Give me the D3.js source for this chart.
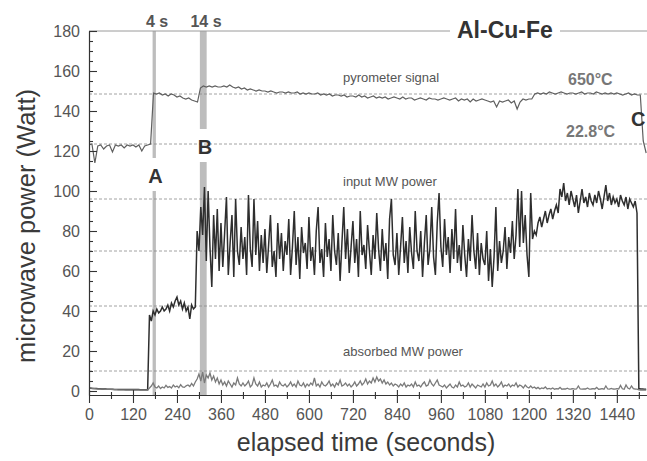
<!DOCTYPE html>
<html>
<head>
<meta charset="utf-8">
<script src="https://cdn.jsdelivr.net/npm/d3@7/dist/d3.min.js"></script>
<style>
  body { margin: 0; background: #fff; }
  svg { display: block; font-family: "Liberation Sans", Arial, sans-serif; }
</style>
</head>
<body>
<script>
// constants
const width = 647;
const height = 461;

// sample intervals (seconds)
const inputStep = 5;
const absorbedStep = 5;
const pyroStep = 8;

// input MW power, one value every 5 s from 0 s (12 values per minute)
const inputPower = [
  1.5,1.4,1.3,1.2,1.2,1.1,1.1,1.0,1.0,1.0,0.9,0.9,
  0.9,0.9,0.8,0.8,0.8,0.8,0.7,0.7,0.7,0.7,0.7,0.7,
  0.7,0.7,0.7,0.7,0.6,0.6,0.6,0.6,0.6,38,35,40,
  38,41,39,40,42,40,41,43,40,44,42,45,
  47,43,45,41,44,40,42,36,43,41,42,80,
  70,92,78,102,65,100,72,52,88,66,91,60,
  84,62,79,97,58,74,88,57,96,70,63,82,
  66,77,58,98,71,62,96,68,85,60,78,64,
  81,59,73,88,62,70,57,84,66,79,60,75,
  68,86,58,72,90,63,77,56,82,69,74,61,
  87,65,72,58,80,92,64,71,57,84,67,76,
  60,88,70,63,79,55,74,92,66,81,59,72,
  85,64,76,57,90,68,73,61,83,70,58,78,
  66,89,71,60,81,65,74,56,86,96,68,63,
  79,58,72,87,64,75,59,82,69,61,90,70,
  65,80,57,74,88,63,71,92,67,58,84,99,
  72,62,86,68,77,59,81,66,91,64,73,60,
  83,68,57,76,65,88,70,61,79,58,74,66,
  63,80,55,71,52,67,92,60,75,64,70,82,
  61,77,69,85,66,78,101,72,100,74,88,68,
  57,99,76,80,78,84,87,82,86,90,84,88,
  91,86,90,93,89,101,97,104,95,99,93,100,
  96,92,98,89,95,101,94,97,92,99,95,93,
  98,94,100,96,91,97,103,95,99,93,97,94,
  96,92,98,95,93,97,91,96,94,92,95,89,
  1.2,1.0,1.0,0.9,0.9
];

// absorbed MW power, one value every 5 s
const absorbedPower = [
  1.5,1.4,1.3,1.2,1.1,1.0,1.0,0.9,0.9,0.8,0.8,0.8,
  0.8,0.7,0.7,0.7,0.6,0.6,0.6,0.6,0.5,0.5,0.5,0.5,
  0.5,0.5,0.5,0.5,0.5,0.5,0.5,0.5,0.5,1.5,2.5,4.0,
  2.0,1.5,2.5,1.2,2.0,1.5,2.8,1.8,2.2,1.5,3.0,2.0,
  2.5,1.6,3.2,2.0,1.8,2.6,3.0,2.2,3.8,2.5,4.5,6.0,
  8.5,5.0,9.5,4.0,8.0,6.5,9.0,5.5,7.5,4.5,6.5,3.5,
  5.5,3.0,4.5,2.5,5.0,3.5,2.0,4.0,3.0,6.5,3.5,2.5,
  4.0,2.5,3.5,5.0,2.0,3.0,6.5,3.5,2.5,4.5,2.0,3.0,
  2.5,4.0,2.0,3.5,5.5,2.5,3.0,2.0,4.5,3.0,2.5,3.5,
  2.0,3.0,4.5,2.5,3.5,2.0,5.0,3.0,2.5,4.0,2.0,3.5,
  2.5,4.0,3.0,6.5,2.5,3.5,2.0,4.5,3.0,2.5,3.5,5.0,
  2.5,3.5,2.0,4.0,3.0,5.5,2.5,3.0,4.0,2.5,3.5,2.0,
  3.0,4.5,2.5,3.5,5.0,3.0,4.0,6.0,3.5,5.0,4.0,6.5,
  4.5,7.0,5.0,6.0,4.0,5.5,3.5,4.5,3.0,4.0,2.5,3.5,
  3.0,2.0,3.5,2.5,4.0,2.0,3.0,2.5,3.5,2.0,4.5,2.5,
  3.0,2.0,3.5,4.5,2.5,3.0,5.5,3.5,2.5,4.0,5.5,3.0,
  2.5,2.0,3.0,1.5,2.5,3.5,2.0,1.5,3.0,2.0,4.5,2.5,
  3.0,2.0,2.5,4.0,2.0,3.5,2.5,1.5,3.0,2.5,2.0,3.5,
  2.0,4.0,2.5,3.0,5.0,2.5,3.5,2.0,3.0,4.5,2.0,3.0,
  2.5,3.5,2.0,3.0,2.5,4.0,2.0,3.0,2.5,1.5,3.0,2.0,
  1.5,2.5,1.5,2.0,1.2,1.8,1.0,1.5,1.2,2.0,1.0,1.3,
  1.0,1.5,0.9,1.2,1.0,1.8,0.9,1.1,1.0,1.4,0.9,1.0,
  1.2,0.9,1.0,2.5,1.0,0.9,1.1,1.0,1.5,0.9,1.0,1.2,
  1.0,1.8,0.9,1.0,1.2,0.9,2.5,1.0,0.9,1.3,1.0,0.9,
  1.2,1.0,2.8,1.1,0.9,3.0,1.5,1.0,2.5,1.2,1.0,0.9,
  0.6,0.5,0.5,0.5,0.5
];

// pyrometer signal (plotted on the watt scale), one value every 8 s
const pyrometer = [
  123,123.5,114,122.5,123,121,122.5,123,119.5,123,122.5,123,121.5,123,122.5,
  123,122,123,120,122.5,123,123.5,149,148.5,149,148,148.5,147.5,148.5,148,
  147,147.5,146.5,146,146.5,145.5,145,144.5,151.5,152.5,152,152.5,152,152.5,152,
  152,152.5,152,153,152,151.5,152,151,151.5,150.5,151,150.5,150,150.5,150,
  150,149.5,150,149.5,149,149.5,149.5,149,149.5,149,149,149.5,148.5,149,148.5,
  149,148.5,148.5,149,148,148.5,148,148.5,147.5,148,148,147.5,148,147,147.5,
  147.5,147,148,147,147.5,146.5,147,147.5,146.5,147,146.5,147,146,146.5,147,
  146.5,146,147,146,146.5,146.5,145.5,146,146.5,146,145.5,146.5,146,146,145.5,
  146,146.5,146,145.5,146,146.5,145,146,145.5,146,144.5,146,145,145.5,146,
  145.5,145,144.5,145,142,145,144.5,145,145.5,144,145,141,144.5,146,145.5,
  146,146,148.5,149,148.5,149,148.5,149.5,149,148.5,149,149.5,149,148.5,149,
  149,148.5,149,149.5,148.5,149,149,148.5,149.5,149,148.5,149,148.5,149,148.5,
  149,148.5,148,148.5,149,148,148.5,148,148,125,119
];

// dashed reference levels (W)
const levels = [148.5, 123.5, 96, 70, 42.5, 10];

// grey time windows: start/end (s) and the gap left for the letter (W)
const bands = [
  { label: 'A', from: 173.5, to: 182.5, gapHigh: 116.5, gapLow: 100 },
  { label: 'B', from: 302.5, to: 321, gapHigh: 131, gapLow: 114.5 }
];

// tick labels
const xTicks = [0, 120, 240, 360, 480, 600, 720, 840, 960, 1080, 1200, 1320, 1440];
const xMinor = [60, 180, 300, 420, 540, 660, 780, 900, 1020, 1140, 1260, 1380, 1500];
const yTicks = [0, 20, 40, 60, 80, 100, 120, 140, 160, 180];
const yMinor = d3.range(5, 180, 5).filter(v => v % 20 !== 0);

// create the svg element
const svg = d3.select('body')
  .append('svg')
  .attr('width', width)
  .attr('height', height);

svg.append('rect').attr('width', width).attr('height', height).attr('fill', '#fff');

// Scales
const xScale = d3.scaleLinear()
  .domain([0, 1525])
  .range([89, 648]);

const yScale = d3.scaleLinear()
  .domain([-2, 180])
  .range([395, 31]);

svg.append('clipPath').attr('id', 'plot')
  .append('rect')
  .attr('x', 89).attr('y', 20)
  .attr('width', width - 89).attr('height', 376);

// grey bands (drawn under everything)
bands.forEach(b => {
  const segs = [[180, b.gapHigh], [b.gapLow, -2]];
  segs.forEach(([top, bottom]) => {
    svg.append('rect')
      .attr('x', xScale(b.from))
      .attr('width', xScale(b.to) - xScale(b.from))
      .attr('y', yScale(top))
      .attr('height', yScale(bottom) - yScale(top))
      .attr('fill', '#bdbdbd');
  });
});

// dashed levels
svg.selectAll('line.level')
  .data(levels)
  .enter()
  .append('line')
  .attr('class', 'level')
  .attr('x1', xScale(0))
  .attr('x2', width)
  .attr('y1', d => yScale(d))
  .attr('y2', d => yScale(d))
  .attr('stroke', '#8a8a8a')
  .attr('stroke-width', 0.8)
  .attr('stroke-dasharray', '3,2');

// top frame, broken for the title
svg.append('line').attr('x1', 89).attr('x2', 450).attr('y1', 31).attr('y2', 31)
  .attr('stroke', '#9a9a9a').attr('stroke-width', 1);
svg.append('line').attr('x1', 560).attr('x2', width).attr('y1', 31).attr('y2', 31)
  .attr('stroke', '#9a9a9a').attr('stroke-width', 1);

// series lines
const line = step => d3.line()
  .x((d, i) => xScale(i * step))
  .y(d => yScale(d));

const plot = svg.append('g').attr('clip-path', 'url(#plot)');

plot.append('path')
  .datum(pyrometer)
  .attr('d', line(pyroStep))
  .attr('fill', 'none')
  .attr('stroke', '#5f5f5f')
  .attr('stroke-width', 1.2);

plot.append('path')
  .datum(inputPower)
  .attr('d', line(inputStep))
  .attr('fill', 'none')
  .attr('stroke', '#2e2e2e')
  .attr('stroke-width', 1.5);

plot.append('path')
  .datum(absorbedPower)
  .attr('d', line(absorbedStep))
  .attr('fill', 'none')
  .attr('stroke', '#7a7a7a')
  .attr('stroke-width', 1.3);

// y axis: major + minor inward ticks
const yAxis = svg.append('g')
  .attr('transform', `translate(${xScale(0)},0)`)
  .call(d3.axisLeft(yScale).tickValues(yTicks).tickSize(-8).tickSizeOuter(0).tickPadding(9).tickFormat(d3.format('d')));
svg.append('g')
  .attr('transform', `translate(${xScale(0)},0)`)
  .call(d3.axisLeft(yScale).tickValues(yMinor).tickSize(-4).tickSizeOuter(0).tickFormat(''))
  .select('.domain').remove();

// x axis: ticks cross the line
const xAxis = svg.append('g')
  .attr('transform', `translate(0,${yScale(-2)})`)
  .call(d3.axisBottom(xScale).tickValues(xTicks).tickSize(8).tickSizeOuter(0).tickPadding(6).tickFormat(d3.format('d')));
xAxis.selectAll('.tick line').attr('y1', -5);
const xMinorAxis = svg.append('g')
  .attr('transform', `translate(0,${yScale(-2)})`)
  .call(d3.axisBottom(xScale).tickValues(xMinor).tickSize(4).tickSizeOuter(0).tickFormat(''));
xMinorAxis.select('.domain').remove();
xMinorAxis.selectAll('.tick line').attr('y1', -3);

[yAxis, xAxis].forEach(a => {
  a.select('.domain').attr('stroke', '#333').attr('stroke-width', 1.2);
  a.selectAll('.tick text')
    .attr('font-family', '"Liberation Sans", Arial, sans-serif')
    .attr('font-size', 16)
    .attr('fill', '#555');
});
svg.selectAll('.tick line').attr('stroke', '#333').attr('stroke-width', 1.1);

// axis titles
svg.append('text')
  .attr('transform', 'translate(35,226) rotate(-90)')
  .attr('text-anchor', 'middle')
  .attr('font-size', 25.5)
  .attr('fill', '#3a3a3a')
  .text('microwave power (Watt)');

svg.append('text')
  .attr('x', 366)
  .attr('y', 451)
  .attr('text-anchor', 'middle')
  .attr('font-size', 25)
  .attr('fill', '#3a3a3a')
  .text('elapsed time (seconds)');

// title
svg.append('text')
  .attr('x', 457).attr('y', 38)
  .attr('font-size', 23)
  .attr('font-weight', 'bold')
  .attr('fill', '#333')
  .text('Al-Cu-Fe');

// band durations
svg.append('text').attr('x', 157).attr('y', 27).attr('text-anchor', 'middle')
  .attr('font-size', 16).attr('font-weight', 'bold').attr('fill', '#555').text('4 s');
svg.append('text').attr('x', 206).attr('y', 27).attr('text-anchor', 'middle')
  .attr('font-size', 16).attr('font-weight', 'bold').attr('fill', '#555').text('14 s');

// band letters
svg.append('text').attr('x', 155.5).attr('y', 183).attr('text-anchor', 'middle')
  .attr('font-size', 20).attr('font-weight', 'bold').attr('fill', '#333').text('A');
svg.append('text').attr('x', 205).attr('y', 154).attr('text-anchor', 'middle')
  .attr('font-size', 20).attr('font-weight', 'bold').attr('fill', '#333').text('B');
svg.append('text').attr('x', 631).attr('y', 126)
  .attr('font-size', 20).attr('font-weight', 'bold').attr('fill', '#333').text('C');

// series labels
const seriesLabels = [
  { text: 'pyrometer signal', y: 82 },
  { text: 'input MW power', y: 186 },
  { text: 'absorbed MW power', y: 356 }
];
svg.selectAll('text.series')
  .data(seriesLabels)
  .enter()
  .append('text')
  .attr('class', 'series')
  .attr('x', 343)
  .attr('y', d => d.y)
  .attr('font-size', 13)
  .attr('fill', '#555')
  .text(d => d.text);

// temperature labels
svg.append('text').attr('x', 568).attr('y', 85)
  .attr('font-size', 16).attr('font-weight', 'bold').attr('fill', '#777').text('650°C');
svg.append('text').attr('x', 566).attr('y', 137)
  .attr('font-size', 16).attr('font-weight', 'bold').attr('fill', '#777').text('22.8°C');
</script>
</body>
</html>
